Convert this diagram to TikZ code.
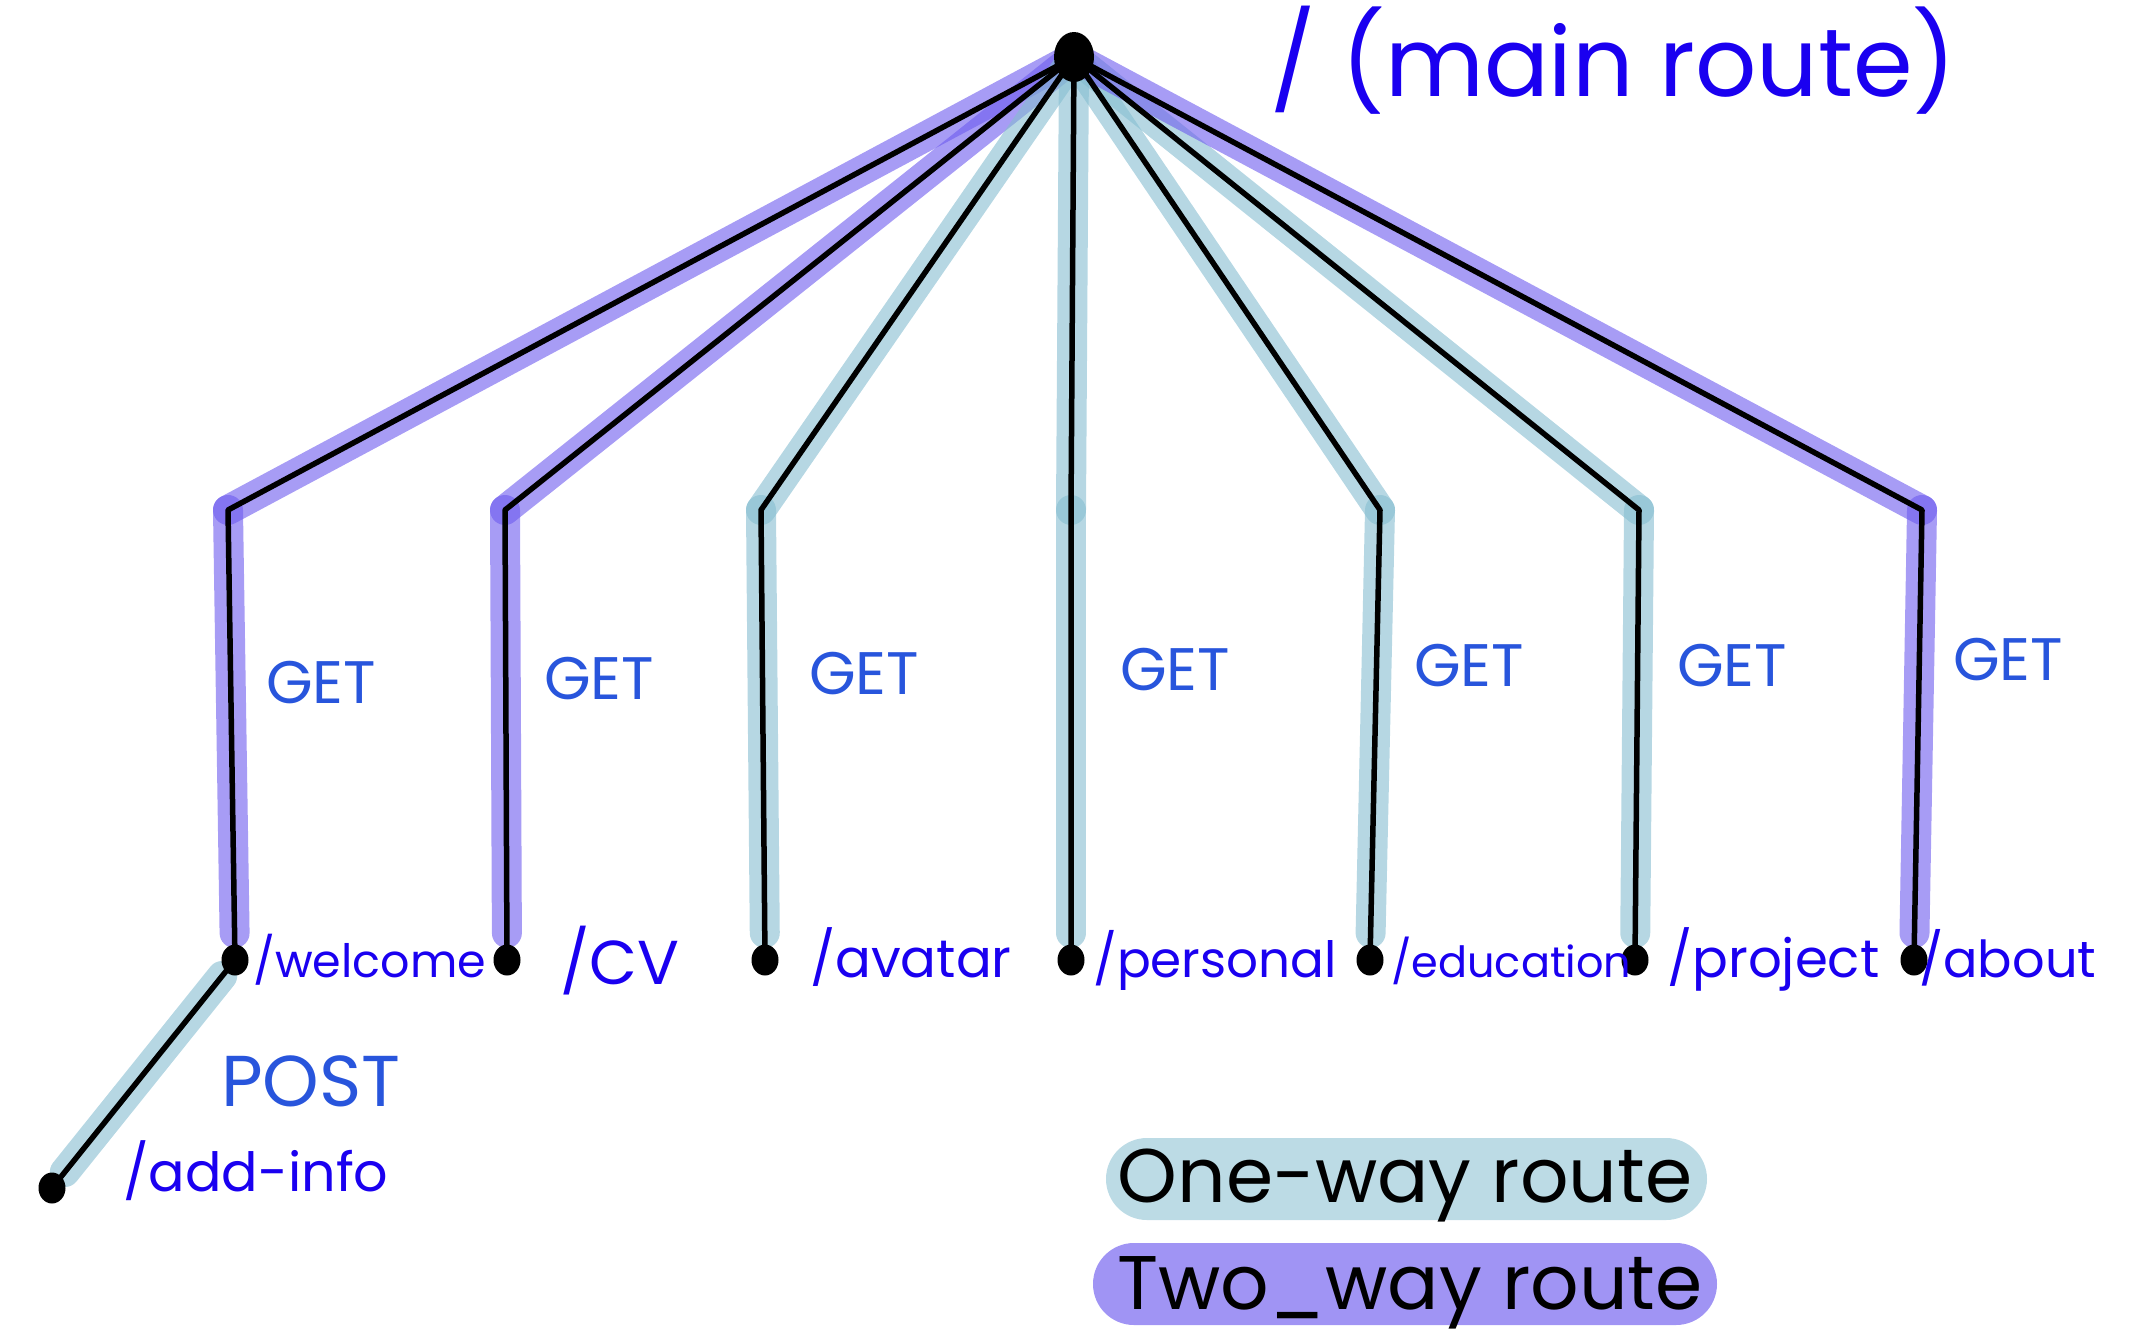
\documentclass[tikz,border=0pt]{standalone}
\usepackage{fontspec}
\setmainfont{Poppins}
\usetikzlibrary{calc,shapes.geometric}
\definecolor{onehl}{RGB}{133,189,208}
\definecolor{twohl}{RGB}{109,90,238}
\definecolor{onefill}{RGB}{188,219,229}
\definecolor{twofill}{RGB}{160,148,244}
\definecolor{pathtext}{RGB}{26,0,240}
\definecolor{gettext}{RGB}{40,85,220}
\begin{document}
\begin{tikzpicture}[x=1pt,y=-1pt,
  hl/.style={line width=30pt, line cap=round, line join=round, draw opacity=0.6},
  onew/.style={hl, draw=onehl},
  twow/.style={hl, draw=twohl},
  wire/.style={line width=5.5pt, line join=round, draw=black},
  dot/.style={ellipse, fill=black, minimum width=27pt, minimum height=31pt, inner sep=0pt},
  rootdot/.style={ellipse, fill=black, minimum width=40pt, minimum height=50pt, inner sep=0pt},
  routelbl/.style={anchor=base west, text=pathtext, inner sep=0pt},
  getlbl/.style={anchor=base west, text=gettext, inner sep=0pt, font=\fontsize{60}{60}\selectfont},
  legendtxt/.style={text=black, inner sep=0pt, font=\fontsize{76}{76}\selectfont},
  pill/.style={rounded corners=41pt}
]
\useasboundingbox (0,0) rectangle (2142,1331);

% coordinates
\coordinate (r) at (1074,57);
\coordinate (e1) at (228,510);  \coordinate (b1) at (235,960);
\coordinate (e2) at (505,510);  \coordinate (b2) at (507,960);
\coordinate (e3) at (761,510);  \coordinate (b3) at (765,960);
\coordinate (e4) at (1071,510); \coordinate (b4) at (1071,960);
\coordinate (e5) at (1380,510); \coordinate (b5) at (1370,960);
\coordinate (e6) at (1639,510); \coordinate (b6) at (1635,960);
\coordinate (e7) at (1922,510); \coordinate (b7) at (1914,960);
\coordinate (ai) at (52,1188);

% legend pills
\fill[onefill, pill] (1106,1138) rectangle (1707,1220);
\fill[twofill, pill] (1093,1243) rectangle (1717,1325);

% highlights
\foreach \i/\s in {1/twow,2/twow,3/onew,4/onew,5/onew,6/onew,7/twow}{
  \draw[\s] (r) -- (e\i);
  \draw[\s] (e\i) -- ($(e\i)!0.94!(b\i)$);
}
\draw[onew] ($(b1)!0.07!(ai)$) -- ($(b1)!0.93!(ai)$);

% wires
\foreach \i in {1,...,7}{
  \draw[wire] (r) -- (e\i) -- (b\i);
}
\draw[wire] (b1) -- (ai);

% dots
\node[rootdot] (root) at (r) {};
\foreach \i in {1,...,7}{
  \node[dot] (d\i) at (b\i) {};
}
\node[dot] (dai) at (ai) {};

% labels
\node[anchor=base west, text=pathtext, inner sep=0pt, font=\fontsize{96}{96}\selectfont] (mainlbl) at (1270,96) {/ (main route)};
\node[routelbl, font=\fontsize{46}{46}\selectfont] (l1) at (253,977) {/welcome};
\node[routelbl, font=\fontsize{62}{62}\selectfont] (l2) at (560,984) {/CV};
\node[routelbl, font=\fontsize{53}{53}\selectfont] (l3) at (810,977) {/avatar};
\node[routelbl, font=\fontsize{50}{50}\selectfont] (l4) at (1093,977) {/personal};
\node[routelbl, font=\fontsize{43}{43}\selectfont] (l5) at (1391,977) {/education};
\node[routelbl, font=\fontsize{53}{53}\selectfont] (l6) at (1667,977) {/project};
\node[routelbl, font=\fontsize{51}{51}\selectfont] (l7) at (1919,977) {/about};
\node[routelbl, font=\fontsize{54}{54}\selectfont] (lai) at (123,1191) {/add-info};

\node[getlbl] (g1) at (266,703) {GET};
\node[getlbl] (g2) at (544,699) {GET};
\node[getlbl] (g3) at (809,694) {GET};
\node[getlbl] (g4) at (1120,690) {GET};
\node[getlbl] (g5) at (1414,686) {GET};
\node[getlbl] (g6) at (1677,686) {GET};
\node[getlbl] (g7) at (1953,680) {GET};
\node[getlbl, font=\fontsize{72}{72}\selectfont] (post) at (221,1106) {POST};

\node[legendtxt, anchor=base] (one) at (1405,1202) {One-way route};
\node[legendtxt, anchor=base] (two) at (1410,1309) {Two\_way route};
\end{tikzpicture}
\end{document}
